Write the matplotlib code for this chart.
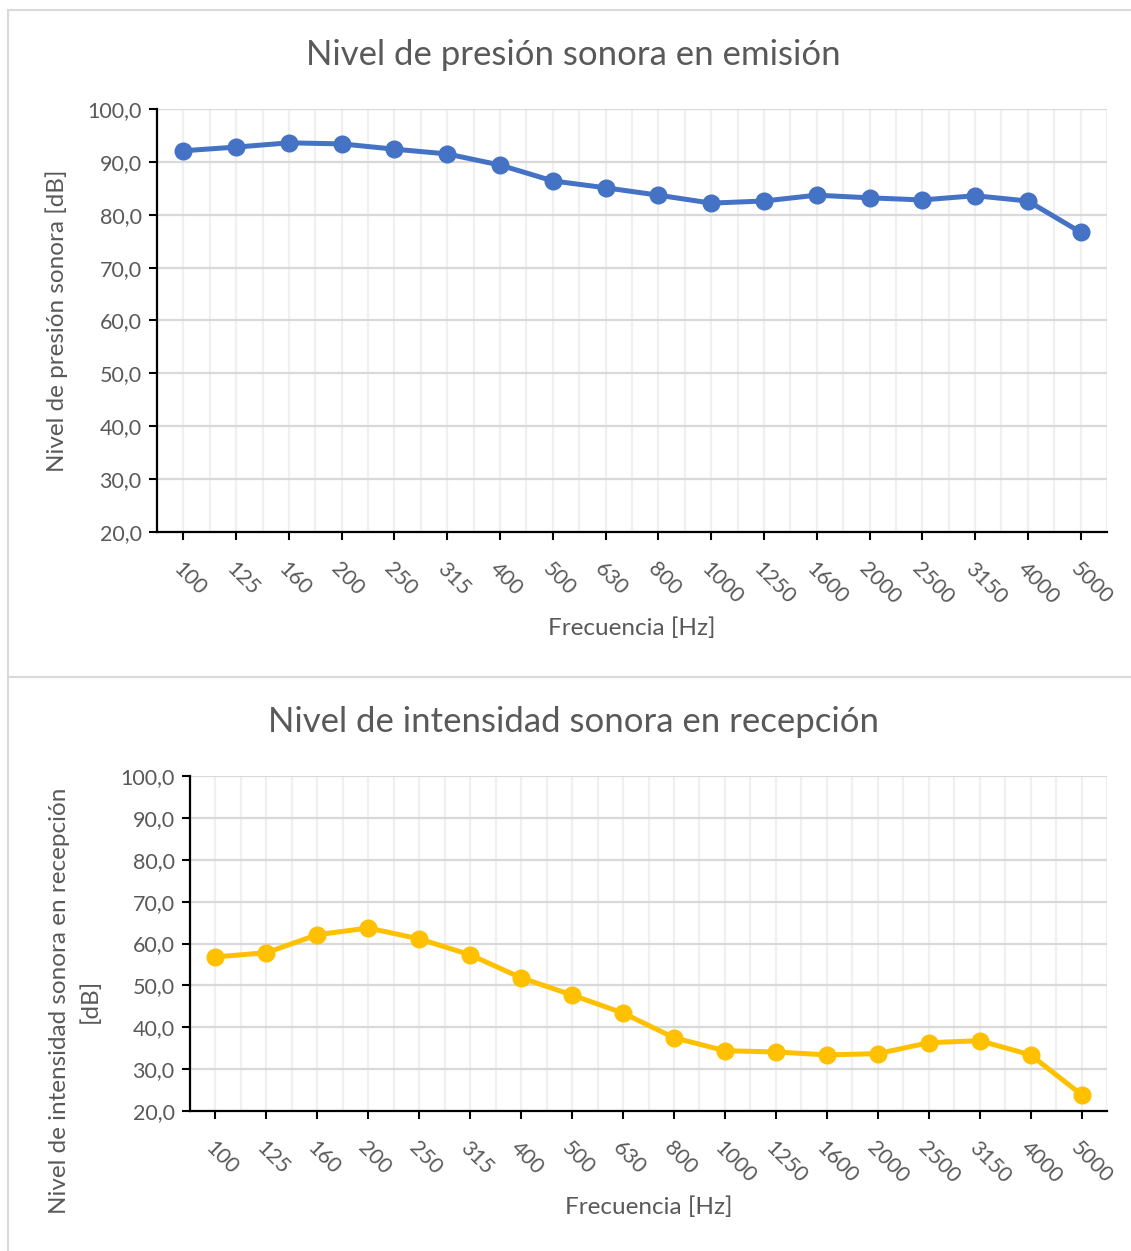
import matplotlib.pyplot as plt
from matplotlib.patches import Rectangle
import numpy as np

plt.rcParams['font.family'] = ['Lato', 'DejaVu Sans']

# frequency bands
freqs = ["100", "125", "160", "200", "250", "315", "400", "500", "630", "800",
         "1000", "1250", "1600", "2000", "2500", "3150", "4000", "5000"]

# sound pressure level at emission [dB]
emision = [92.1, 92.8, 93.6, 93.4, 92.4, 91.5, 89.4, 86.4, 85.1, 83.7,
           82.2, 82.6, 83.7, 83.2, 82.8, 83.6, 82.6, 76.7]

# sound intensity level at reception [dB]
recepcion = [56.8, 57.8, 62.1, 63.7, 61.1, 57.3, 51.8, 47.7, 43.4, 37.5,
             34.4, 34.1, 33.4, 33.7, 36.3, 36.8, 33.4, 23.9]

yticks = [20, 30, 40, 50, 60, 70, 80, 90, 100]

TXT = '#595959'
W, H = 1131, 1251

fig = plt.figure(figsize=(W / 100, H / 100), dpi=100)

# chart borders (excel style)
fig.patches.append(Rectangle((8 / W, 1 - 677 / H), 1.2, 667 / H, transform=fig.transFigure,
                             fill=False, edgecolor='#d9d9d9', lw=1.5))
fig.patches.append(Rectangle((8 / W, -0.1), 1.2, (H - 677) / H + 0.1, transform=fig.transFigure,
                             fill=False, edgecolor='#d9d9d9', lw=1.5))


def draw(ax, vals, color, title, ylabel, title_y, xlabel_y, ylabel_x, ylabel_y):
    x = np.arange(len(freqs))
    ax.set_xlim(-0.5, len(freqs) - 0.5)
    ax.set_ylim(20, 100)
    # vertical grid every half category
    for gx in np.arange(-0.5, len(freqs), 0.5):
        ax.axvline(gx, color='#f0f0f0', lw=1.6, zorder=0)
    ax.set_yticks(yticks)
    ax.set_yticklabels([f"{v:.1f}".replace('.', ',') for v in yticks])
    ax.yaxis.grid(True, color='#d9d9d9', lw=1.6, zorder=0)
    ax.set_axisbelow(True)
    ax.plot(x, vals, color=color, lw=3.6, marker='o', markersize=12, zorder=3, clip_on=False)
    ax.set_xticks(x)
    ax.set_xticklabels(freqs, rotation=-45, ha='left', va='top', rotation_mode='anchor')
    ax.tick_params(axis='both', colors='black', labelcolor=TXT, labelsize=15.5,
                   direction='out', length=6, width=1.5)
    ax.tick_params(axis='x', pad=13)
    ax.tick_params(axis='y', pad=5)
    for s in ['top', 'right']:
        ax.spines[s].set_visible(False)
    for s in ['left', 'bottom']:
        ax.spines[s].set_linewidth(1.6)
        ax.spines[s].set_color('black')
    fig.text(573 / W, 1 - title_y / H, title, ha='center', va='center', fontsize=25, color=TXT)
    pos = ax.get_position()
    fig.text((pos.x0 + pos.x1) / 2, 1 - xlabel_y / H, "Frecuencia [Hz]", ha='center', va='center',
             fontsize=17.5, color=TXT)
    fig.text(ylabel_x / W, 1 - ylabel_y / H, ylabel, ha='center', va='center', rotation=90,
             fontsize=17.5, color=TXT, linespacing=1.55)


ax1 = fig.add_axes([157 / W, 1 - 532 / H, 950 / W, 423 / H])
draw(ax1, emision, '#4472C4', "Nivel de presión sonora en emisión",
     "Nivel de presión sonora [dB]", 55, 628, 57, 321)

ax2 = fig.add_axes([190 / W, 1 - 1111 / H, 917 / W, 335 / H])
draw(ax2, recepcion, '#FFC000', "Nivel de intensidad sonora en recepción",
     "Nivel de intensidad sonora en recepción\n[dB]", 722, 1207, 75, 1001)

fig.savefig('out.png', dpi=100, facecolor='white')
